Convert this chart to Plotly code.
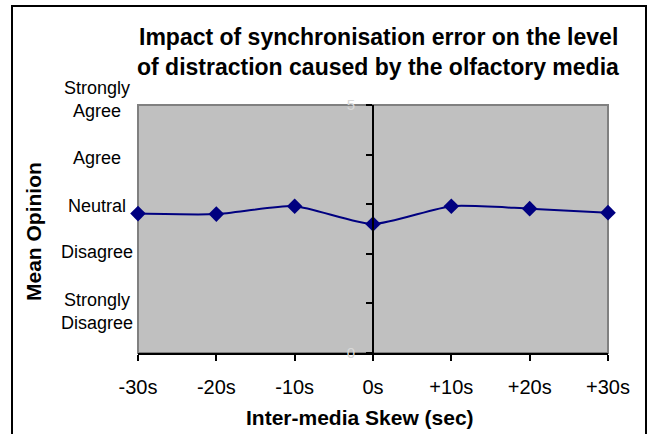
import plotly.graph_objects as go

# ---- data ----
skew_sec = [-30, -20, -10, 0, 10, 20, 30]
skew_labels = ["-30s", "-20s", "-10s", "0s", "+10s", "+20s", "+30s"]
mean_opinion = [2.81, 2.80, 2.96, 2.60, 2.96, 2.91, 2.83]

y_tickvals = [0, 1, 2, 3, 4, 5]
y_ticktext = ["0", "", "", "", "", "5"]

scale_labels = ["Strongly<br>Agree", "Agree", "Neutral", "Disagree", "Strongly<br>Disagree"]
scale_label_pos = [5.12, 3.93, 2.96, 2.03, 0.84]

title_lines = ["Impact of synchronisation error on the level",
               "of distraction caused by the olfactory media"]
x_title = "Inter-media Skew (sec)"
y_title = "Mean Opinion"

FONT = "Liberation Sans, Arial, sans-serif"
NAVY = "#000080"

# plot-area geometry in pixels (for converting text placement to paper coords)
L, R, T, B = 138, 608, 105, 353
PW, PH = R - L, B - T


def px_x(px):
    return (px - L) / PW


def px_y(py):
    return (B - py) / PH


fig = go.Figure()
fig.add_trace(go.Scatter(
    x=skew_sec, y=mean_opinion, mode="lines+markers",
    line=dict(color=NAVY, width=2, shape="spline", smoothing=0.6),
    marker=dict(symbol="diamond", size=12, color=NAVY),
    cliponaxis=False, showlegend=False, hoverinfo="x+y",
))

fig.update_layout(
    width=652, height=434,
    margin=dict(l=L, r=652 - R, t=T, b=434 - B),
    paper_bgcolor="white", plot_bgcolor="#c0c0c0",
    font=dict(family=FONT, size=18, color="black"),
    xaxis=dict(
        range=[-30, 30], tickvals=skew_sec, ticktext=skew_labels,
        showgrid=False, zeroline=False, showline=True, linecolor="black", linewidth=2,
        ticks="outside", ticklen=6, tickwidth=1.5, tickcolor="black",
        tickfont=dict(size=20), ticklabelstandoff=9,
    ),
    xaxis2=dict(
        range=[-30, 30], tickvals=skew_sec, overlaying="x", anchor="y",
        showgrid=False, zeroline=False, showticklabels=False,
        ticks="inside", ticklen=6, tickwidth=1.5, tickcolor="black",
    ),
    yaxis=dict(
        range=[0, 5], tickvals=y_tickvals, ticktext=y_ticktext,
        anchor="free", position=0.5,
        showgrid=False, zeroline=False, showline=True, linecolor="black", linewidth=2,
        ticks="outside", ticklen=6, tickwidth=1.5, tickcolor="black",
        tickfont=dict(size=15, color="#d8d8d8"), ticklabelstandoff=8,
    ),
    yaxis2=dict(
        range=[0, 5], tickvals=y_tickvals, overlaying="y",
        anchor="free", position=0.5,
        showgrid=False, zeroline=False, showticklabels=False,
        ticks="inside", ticklen=6, tickwidth=1.5, tickcolor="black",
    ),
)

annotations = []
for txt, pos in zip(scale_labels, scale_label_pos):
    annotations.append(dict(
        text=txt, xref="paper", yref="paper", x=px_x(97), y=pos / 5,
        xanchor="center", yanchor="middle", showarrow=False, align="center",
        font=dict(size=18),
    ))
annotations.append(dict(
    text="<b>" + y_title + "</b>", xref="paper", yref="paper",
    x=px_x(33), y=px_y(232), textangle=-90,
    xanchor="center", yanchor="middle", showarrow=False, font=dict(size=21),
))
annotations.append(dict(
    text="<b>" + x_title + "</b>", xref="paper", yref="paper",
    x=px_x(360), y=px_y(417),
    xanchor="center", yanchor="middle", showarrow=False, font=dict(size=21),
))
for i, line in enumerate(title_lines):
    annotations.append(dict(
        text="<b>" + line + "</b>", xref="paper", yref="paper",
        x=px_x(378), y=px_y(37 + 30 * i),
        xanchor="center", yanchor="middle", showarrow=False, font=dict(size=23),
    ))
fig.update_layout(annotations=annotations)

# plot area border (grey) and outer chart border (black)
fig.add_shape(type="rect", xref="paper", yref="paper", x0=0, x1=1, y0=0, y1=1,
              line=dict(color="#808080", width=2), layer="between")
fig.add_shape(type="rect", xref="paper", yref="paper",
              x0=px_x(12), x1=px_x(646), y0=px_y(440), y1=px_y(6),
              line=dict(color="black", width=2), layer="above")

fig.write_html("out.html",
               config={"displayModeBar": False},
               post_script="document.body.style.margin='0';"
                           "document.body.style.overflow='hidden';")
